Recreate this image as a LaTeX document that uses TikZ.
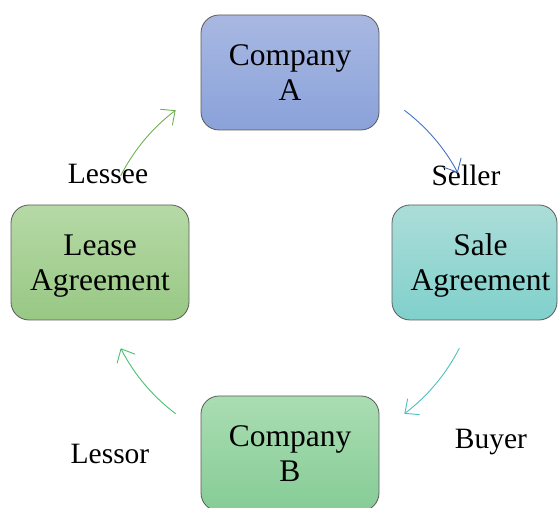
\documentclass[tikz,border=0pt]{standalone}
\usepackage{fontspec}
\setmainfont{Liberation Serif}
\usetikzlibrary{arrows.meta}
\definecolor{bordergray}{HTML}{5A5A5A}
\definecolor{aTop}{RGB}{168,184,226}
\definecolor{aBot}{RGB}{138,162,218}
\definecolor{sTop}{RGB}{172,221,216}
\definecolor{sBot}{RGB}{128,208,204}
\definecolor{bTop}{RGB}{170,221,178}
\definecolor{bBot}{RGB}{134,204,150}
\definecolor{lTop}{RGB}{182,217,166}
\definecolor{lBot}{RGB}{152,200,132}
\definecolor{arBlue}{RGB}{68,114,196}
\definecolor{arTeal}{RGB}{75,192,192}
\definecolor{arGreen}{RGB}{76,192,112}
\definecolor{arLeaf}{RGB}{112,176,80}
\tikzset{
  box/.style={draw=bordergray, line width=0.8pt, rounded corners=18pt,
    minimum width=178pt, minimum height=115pt, align=center, inner sep=0pt,
    font=\fontsize{31.5}{35}\selectfont},
  lbl/.style={font=\fontsize{29.5}{32}\selectfont, anchor=base, inner sep=0pt},
  cyc/.style={line width=0.9pt, -{Straight Barb[length=11pt,width=20pt]}}
}
\begin{document}
\begin{tikzpicture}[x=1pt,y=1pt]
\useasboundingbox (0,0) rectangle (558,508);
\begin{scope}
\clip (0,0) rectangle (558,508);
\node[box, top color=aTop, bottom color=aBot] (compA) at (290,435.5) {Company\\A};
\node[box, top color=sTop, bottom color=sBot, minimum width=165pt, text depth=0pt] (sale) at (474.5,245.5) {\hspace*{12pt}Sale\\\hspace*{12pt}Agreement};
\node[box, top color=bTop, bottom color=bBot] (compB) at (290,54.5) {Company\\B};
\node[box, top color=lTop, bottom color=lBot, text depth=0pt] (lease) at (100,245.5) {Lease\\Agreement};
\end{scope}
\coordinate (c) at (290,246);
\node[lbl] (lessee) at (108,324) {Lessee};
\node[lbl] (seller) at (466,322) {Seller};
\node[lbl] (lessor) at (110,44) {Lessor};
\node[lbl] (buyer) at (491,59) {Buyer};
\draw[cyc, arBlue] ([shift={(53:190)}]c) arc[start angle=53, end angle=28, radius=190];
\draw[cyc, arTeal] ([shift={(-27:190)}]c) arc[start angle=-27, end angle=-53, radius=190];
\draw[cyc, arGreen] ([shift={(233:190)}]c) arc[start angle=233, end angle=207, radius=190];
\draw[cyc, arLeaf] ([shift={(153:190)}]c) arc[start angle=153, end angle=127, radius=190];
\end{tikzpicture}
\end{document}
